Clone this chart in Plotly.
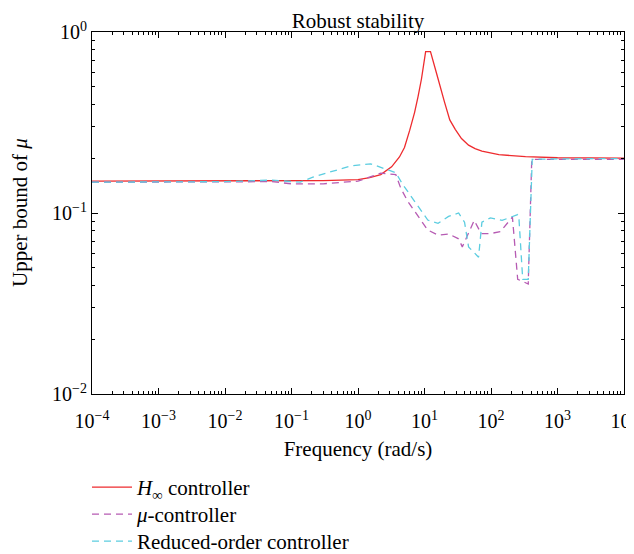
import plotly.graph_objects as go

# H-infinity controller
hinf_freq = [1e-4, 1e-3, 1e-2, 0.1, 0.3, 1, 1.5, 2.2, 3.2, 4.2, 5.0, 6.0, 7.1, 8.0, 9.0, 10.4, 12.3, 15.2, 17.1, 20, 24, 29, 36, 46, 57.6, 73, 131, 293, 330, 1000, 1e4]
hinf_mu = [0.15, 0.15, 0.15, 0.15, 0.151, 0.153, 0.157, 0.163, 0.18, 0.204, 0.23, 0.287, 0.36, 0.44, 0.55, 0.78, 0.78, 0.59, 0.50, 0.41, 0.327, 0.29, 0.258, 0.237, 0.227, 0.22, 0.21, 0.204, 0.205, 0.202, 0.201]

# mu-controller
muc_freq = [1e-4, 1e-2, 0.05, 0.1, 0.3, 1, 2.2, 3.7, 4.4, 5.6, 8.3, 11.2, 16, 23, 32.6, 37, 56, 71, 98, 138, 210, 252, 295, 363, 410, 1000, 1e4]
muc_mu = [0.148, 0.149, 0.149, 0.145, 0.145, 0.15, 0.166, 0.163, 0.137, 0.116, 0.094, 0.0805, 0.0755, 0.0766, 0.072, 0.065, 0.091, 0.077, 0.077, 0.0788, 0.095, 0.043, 0.042, 0.0405, 0.198, 0.198, 0.198]

# Reduced-order controller
red_freq = [1e-4, 1e-2, 0.05, 0.135, 0.21, 0.43, 0.78, 1.55, 2.5, 3.7, 4.7, 7.1, 11.2, 16, 23, 32.6, 40, 46, 65, 73, 98, 147, 252, 262, 300, 363, 417, 1000, 1e4]
red_mu = [0.148, 0.149, 0.152, 0.148, 0.158, 0.171, 0.182, 0.187, 0.175, 0.167, 0.144, 0.116, 0.0914, 0.0877, 0.0957, 0.1, 0.089, 0.065, 0.057, 0.089, 0.094, 0.091, 0.098, 0.096, 0.043, 0.043, 0.198, 0.199, 0.2]

x_tickvals = [1e-4, 1e-3, 1e-2, 1e-1, 1, 10, 100, 1000, 1e4]
x_ticktext = ["10<sup>−4</sup>", "10<sup>−3</sup>", "10<sup>−2</sup>", "10<sup>−1</sup>", "10<sup>0</sup>",
              "10<sup>1</sup>", "10<sup>2</sup>", "10<sup>3</sup>", "10<sup>4</sup>"]
y_tickvals = [1e-2, 1e-1, 1]
y_ticktext = ["10<sup>−2</sup>", "10<sup>−1</sup>", "10<sup>0</sup>"]

x_minor = [m * 10.0 ** e for e in range(-4, 4) for m in range(2, 10)]
y_minor = [m * 10.0 ** e for e in range(-2, 0) for m in range(2, 10)]

FONT = "Liberation Serif, Times New Roman, serif"

# page body has an 8px margin: figure is 626x546 so it fills the 634x554 window
W, H = 626, 546

fig = go.Figure()
fig.add_trace(go.Scatter(x=hinf_freq, y=hinf_mu, mode="lines",
                         name="<i>H</i><sub>∞</sub> controller", legend="legend",
                         line=dict(color="#ee2b2e", width=1.3)))
fig.add_trace(go.Scatter(x=muc_freq, y=muc_mu, mode="lines",
                         name="<i>μ</i>-controller", legend="legend2",
                         line=dict(color="#b65bb3", width=1.3, dash="7px,5px")))
fig.add_trace(go.Scatter(x=red_freq, y=red_mu, mode="lines",
                         name="Reduced-order controller", legend="legend3",
                         line=dict(color="#5ccde0", width=1.3, dash="7px,5px")))
# invisible carrier trace for minor-tick overlay axes
fig.add_trace(go.Scatter(x=hinf_freq, y=hinf_mu, mode="lines", xaxis="x2", yaxis="y2",
                         line=dict(color="rgba(0,0,0,0)", width=0), showlegend=False, hoverinfo="skip"))

axis_common = dict(showgrid=False, zeroline=False, showline=True, linecolor="black", linewidth=1.2,
                   mirror="allticks", ticks="inside", ticklen=6, tickcolor="black", tickwidth=1,
                   tickfont=dict(family=FONT, size=20, color="black"), automargin=False,
                   ticklabeloverflow="allow")


def legend_at(row_center):
    return dict(x=79 / W, y=1 - (row_center - 8 - 22) / H, xref="container", yref="container",
                xanchor="left", yanchor="top", orientation="v",
                font=dict(family=FONT, size=21, color="black"), itemwidth=40,
                bgcolor="rgba(0,0,0,0)")


fig.update_layout(
    xaxis=dict(type="log", range=[-4.0001, 4.0001], tickvals=x_tickvals, ticktext=x_ticktext,
               ticklabelstandoff=9,
               title=dict(text="Frequency (rad/s)", font=dict(family=FONT, size=21, color="black"), standoff=10),
               **axis_common),
    yaxis=dict(type="log", range=[-2.0001, 0.0001], tickvals=y_tickvals, ticktext=y_ticktext,
               **axis_common),
    xaxis2=dict(type="log", range=[-4.0001, 4.0001], overlaying="x", side="bottom", tickvals=x_minor,
                ticktext=[""] * len(x_minor), ticks="inside", ticklen=3, tickcolor="black", tickwidth=1,
                mirror="allticks", showline=False, showgrid=False, zeroline=False, automargin=False),
    yaxis2=dict(type="log", range=[-2.0001, 0.0001], overlaying="y", side="left", tickvals=y_minor,
                ticktext=[""] * len(y_minor), ticks="inside", ticklen=3, tickcolor="black", tickwidth=1,
                mirror="allticks", showline=False, showgrid=False, zeroline=False, automargin=False),
    width=W, height=H,
    margin=dict(l=84, r=10, t=24, b=160, autoexpand=False),
    paper_bgcolor="white", plot_bgcolor="white",
    font=dict(family=FONT, size=16, color="black"),
    title=dict(text="Robust stability", x=350 / W, xref="container", xanchor="center",
               y=1 - 13 / H, yref="container", yanchor="middle",
               font=dict(family=FONT, size=21, color="black")),
    annotations=[dict(text="Upper bound of <i>μ</i>", textangle=-90, xref="paper", yref="paper",
                      x=-72 / 532, y=0.5, xanchor="center", yanchor="middle", showarrow=False,
                      font=dict(family=FONT, size=21, color="black"))],
    showlegend=True,
    legend=legend_at(489),
    legend2=legend_at(516),
    legend3=legend_at(543),
)

fig.write_html("out.html")
